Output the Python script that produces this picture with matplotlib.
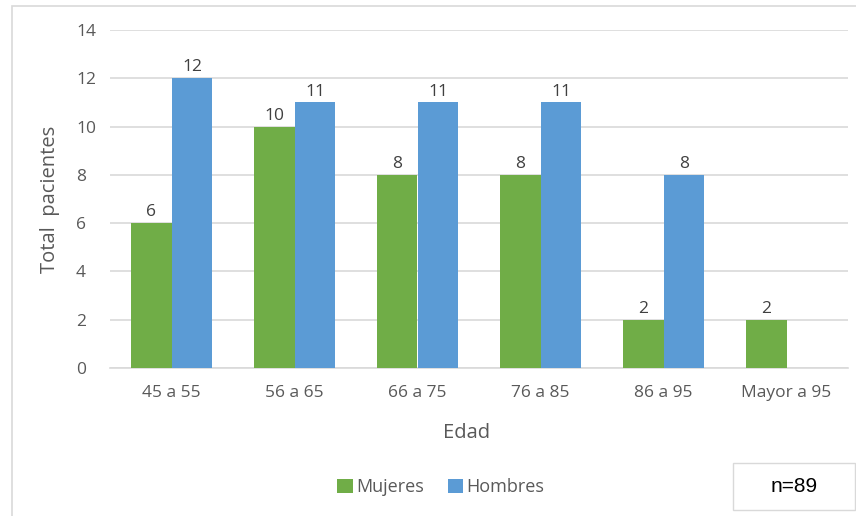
import matplotlib.pyplot as plt
import numpy as np
from matplotlib.patches import Rectangle

# Pacientes por grupo de edad y sexo
grupos = ['45 a 55', '56 a 65', '66 a 75', '76 a 85', '86 a 95', 'Mayor a 95']
mujeres = [6, 10, 8, 8, 2, 2]
hombres = [12, 11, 11, 11, 8, 0]

verde = '#70AD47'
azul = '#5B9BD5'
gris = '#595959'

plt.rcParams['font.family'] = ['Open Sans', 'DejaVu Sans']

fig = plt.figure(figsize=(8.56, 5.16), dpi=100)
ax = fig.add_axes([110 / 856, 1 - 368 / 516, 738 / 856, 338 / 516])

# marco del gráfico
fig.patches.append(Rectangle((12 / 856, -0.01), 850 / 856, 1 - 6 / 516 + 0.01,
                             transform=fig.transFigure, fill=False,
                             edgecolor='#D9D9D9', linewidth=1.2))

x = np.arange(len(grupos))
w = 0.333
b1 = ax.bar(x - w / 2, mujeres, w, color=verde, label='Mujeres', zorder=3)
b2 = ax.bar(x + w / 2, hombres, w, color=azul, label='Hombres', zorder=3)

for barras, vals in ((b1, mujeres), (b2, hombres)):
    for r, v in zip(barras, vals):
        if v == 0:
            continue
        ax.text(r.get_x() + r.get_width() / 2, v + 0.12, str(v),
                ha='center', va='bottom', fontsize=12.5, color='#404040')

ax.set_xlim(-0.5, len(grupos) - 0.5)
ax.set_ylim(0, 14)
ax.set_yticks(range(0, 15, 2))
ax.set_xticks(x)
ax.set_xticklabels(grupos)
ax.tick_params(axis='both', length=0, labelsize=12.5, colors=gris)
ax.tick_params(axis='x', pad=12)
ax.tick_params(axis='y', pad=24.5)
for t in ax.get_yticklabels():
    t.set_horizontalalignment('left')
ax.grid(axis='y', color='#D9D9D9', linewidth=1.2, zorder=0)
for s in ax.spines.values():
    s.set_visible(False)
ax.spines['bottom'].set_visible(True)
ax.spines['bottom'].set_color('#D9D9D9')
ax.spines['bottom'].set_linewidth(1.2)

fig.text(50 / 856, 1 - 199 / 516, 'Total  pacientes', rotation=90,
         ha='center', va='center', fontsize=14.5, color=gris)
fig.text(467 / 856, 1 - 433 / 516, 'Edad', ha='center', va='center',
         fontsize=14.5, color=gris)

leg = fig.legend(handles=[b1, b2], loc='center', bbox_to_anchor=(441 / 856, 1 - 487 / 516),
                 ncol=2, frameon=False, fontsize=13, handlelength=0.85, handleheight=0.85,
                 handletextpad=0.2, columnspacing=1.3)
for t in leg.get_texts():
    t.set_color(gris)

# caja con el tamaño de muestra
fig.patches.append(Rectangle((733 / 856, 1 - 510 / 516), 122 / 856, 47 / 516,
                             transform=fig.transFigure, facecolor='white',
                             edgecolor='#D9D9D9', linewidth=1))
fig.text(794 / 856, 1 - 487 / 516, 'n=89', ha='center', va='center',
         fontsize=15, color='black', family='Liberation Sans')

fig.savefig('out.png', dpi=100)
